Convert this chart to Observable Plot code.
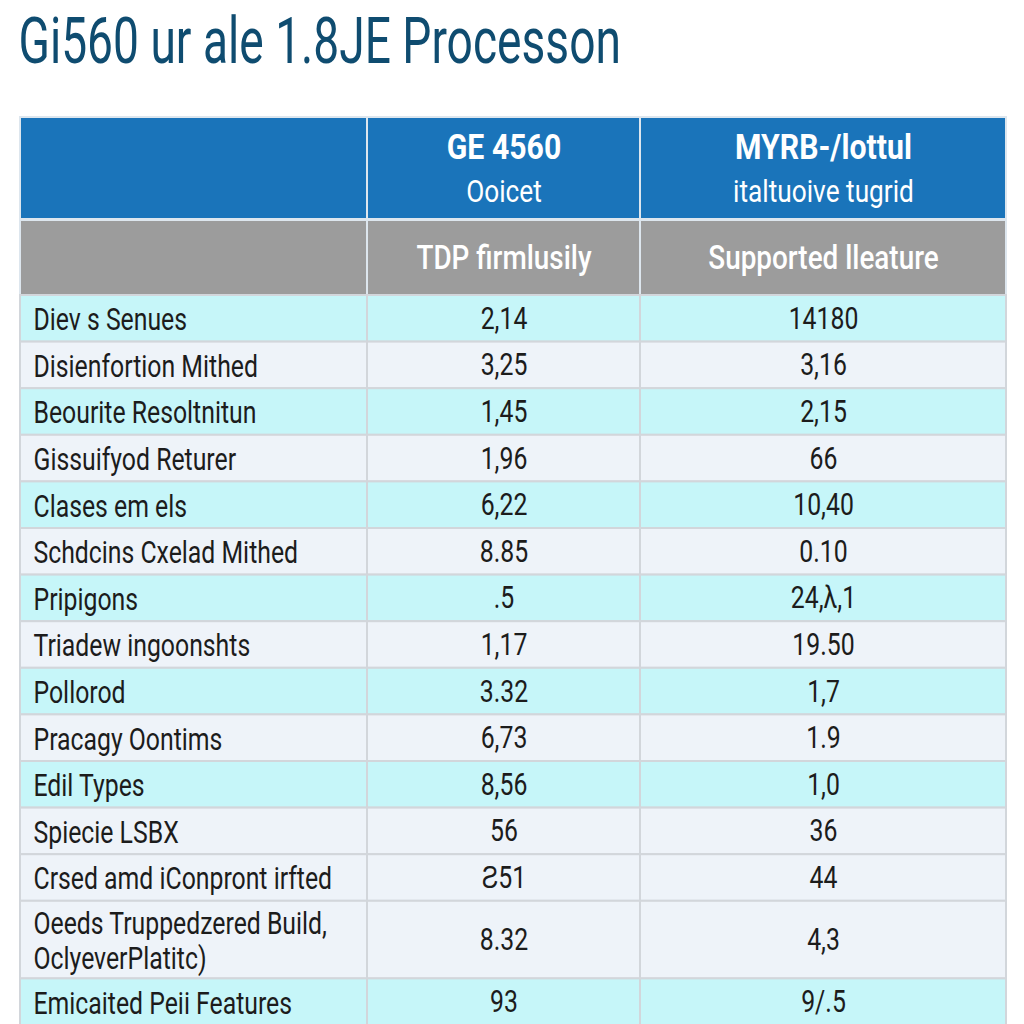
<!DOCTYPE html>
<html>
<head>
<meta charset="utf-8">
<script src="https://cdn.jsdelivr.net/npm/d3@7"></script>
<script src="https://cdn.jsdelivr.net/npm/@observablehq/plot@0.6"></script>
<style>
  html, body { margin: 0; padding: 0; background: #ffffff; }
  #chart svg { display: block; }
</style>
</head>
<body>
<div id="chart"></div>
<script>
// ---------- DATA ----------
const title = "Gi560 ur ale 1.8JE Processon";
const headTop = ["", "GE 4560", "MYRB-/lottul"];
const headSub = ["", "Ooicet", "italtuoive tugrid"];
const headSecond = ["", "TDP firmlusily", "Supported lleature"];
const features = [
  "Diev s Senues",
  "Disienfortion Mithed",
  "Beourite Resoltnitun",
  "Gissuifyod Returer",
  "Clases em els",
  "Schdcins Cxelad Mithed",
  "Pripigons",
  "Triadew ingoonshts",
  "Pollorod",
  "Pracagy Oontims",
  "Edil Types",
  "Spiecie LSBX",
  "Crsed amd iConpront irfted",
  "Oeeds Truppedzered Build,\nOclyeverPlatitc)",
  "Emicaited Peii Features"
];
const tdpValues = ["2,14", "3,25", "1,45", "1,96", "6,22", "8.85", ".5", "1,17", "3.32", "6,73", "8,56", "56", "Ƨ51", "8.32", "93"];
const supportedValues = ["14180", "3,16", "2,15", "66", "10,40", "0.10", "24,λ,1", "19.50", "1,7", "1.9", "1,0", "36", "44", "4,3", "9/.5"];

// ---------- LAYOUT / STYLE ----------
const W = 1024, H = 1024;
const colEdges = [20, 367, 640, 1006];
const head1 = [117, 219];
const head2 = [220, 295];
const bodyTop = 295;
const rowUnit = 46.6;
const extraLine = 31;
const cyanRows = new Set([0, 2, 4, 6, 8, 10, 14]);
const C = {
  title: "#0f4c70", blue: "#1a74ba", gray: "#9c9c9c", cyan: "#c6f6f9", light: "#eef3f9",
  grid: "#d2d6db", headGrid: "#dde6ee", text: "#1c1c1c"
};
const FONT = "Roboto, 'Liberation Sans', sans-serif";

// build rows
let yCursor = bodyTop;
const rows = features.map((f, i) => {
  const lines = f.split("\n").length;
  const h = rowUnit + (lines - 1) * extraLine;
  const r = { i, feature: f, tdp: tdpValues[i], sup: supportedValues[i], y1: yCursor, y2: yCursor + h };
  yCursor += h;
  return r;
});

const cells = [];
rows.forEach(r => {
  for (let c = 0; c < 3; c++) cells.push({ x1: colEdges[c], x2: colEdges[c + 1], y1: r.y1, y2: r.y2, fill: cyanRows.has(r.i) ? C.cyan : C.light });
});
const headCells = [];
for (let c = 0; c < 3; c++) {
  headCells.push({ x1: colEdges[c], x2: colEdges[c + 1], y1: head1[0], y2: head1[1], fill: C.blue });
  headCells.push({ x1: colEdges[c], x2: colEdges[c + 1], y1: head2[0], y2: head2[1], fill: C.gray });
}
const colCenter = c => (colEdges[c] + colEdges[c + 1]) / 2;
const headTexts = [1, 2].map(c => ({ x: colCenter(c), top: headTop[c], sub: headSub[c], second: headSecond[c] }));

const plot = Plot.plot({
  width: W, height: H,
  margin: 0,
  x: { type: "linear", domain: [0, W], range: [0, W], axis: null },
  y: { type: "linear", domain: [0, H], range: [0, H], axis: null },
  style: { background: "#ffffff", fontFamily: FONT },
  marks: [
    Plot.rect(headCells, { x1: "x1", x2: "x2", y1: "y1", y2: "y2", fill: "fill", stroke: C.headGrid, strokeWidth: 2 }),
    Plot.rect(cells, { x1: "x1", x2: "x2", y1: "y1", y2: "y2", fill: "fill", stroke: C.grid, strokeWidth: 2 }),
    Plot.text([title], { x: () => 18, y: () => 42, text: d => d, textAnchor: "start", lineAnchor: "middle", fontSize: 65, fill: C.title, className: "ttl" }),
    Plot.text(headTexts, { x: "x", y: () => 147, text: "top", fontSize: 36, fontWeight: "bold", fill: "#ffffff", className: "hdr1" }),
    Plot.text(headTexts, { x: "x", y: () => 191, text: "sub", fontSize: 32, fill: "#ffffff", className: "hdr2" }),
    Plot.text(headTexts, { x: "x", y: () => 258, text: "second", fontSize: 34, fontWeight: 500, fill: "#ffffff", className: "hdr2" }),
    Plot.text(rows, { x: () => 33, y: r => (r.y1 + r.y2) / 2, text: "feature", textAnchor: "start", lineAnchor: "middle", lineHeight: 1.15, fontSize: 31, fill: C.text, className: "body" }),
    Plot.text(rows, { x: () => colCenter(1), y: r => (r.y1 + r.y2) / 2, text: "tdp", lineAnchor: "middle", fontSize: 31, fill: C.text, className: "body" }),
    Plot.text(rows, { x: () => colCenter(2), y: r => (r.y1 + r.y2) / 2, text: "sup", lineAnchor: "middle", fontSize: 31, fill: C.text, className: "body" })
  ]
});

// condense glyphs horizontally (the reference uses a narrow typeface)
const condense = { ttl: 0.71, hdr1: 0.84, hdr2: 0.82, body: 0.80 };
for (const [cls, s] of Object.entries(condense)) {
  plot.querySelectorAll(`.${cls} text`).forEach(t => {
    const tr = t.getAttribute("transform") || "";
    t.setAttribute("transform", tr + ` scale(${s},1)`);
  });
}
document.getElementById("chart").appendChild(plot);
</script>
</body>
</html>
